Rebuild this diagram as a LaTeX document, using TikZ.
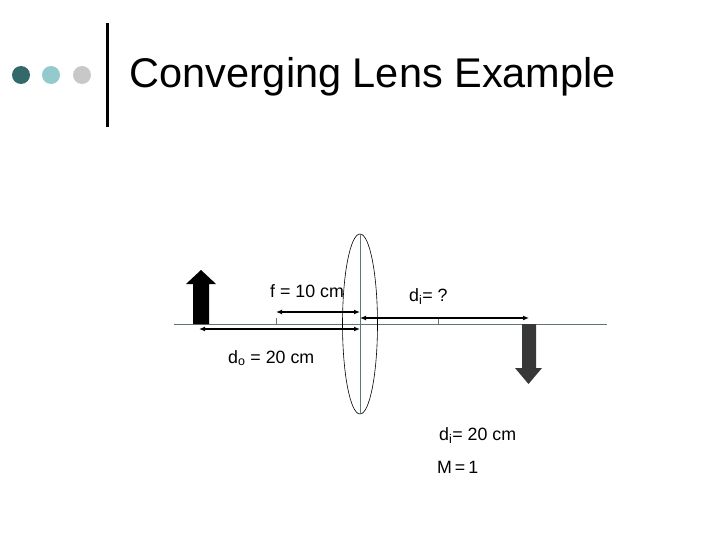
\documentclass[tikz,border=0pt]{standalone}
\usepackage{fontspec}
\setmainfont{Liberation Sans}
\usetikzlibrary{arrows.meta,shapes.geometric}
\definecolor{dteal}{HTML}{33696B}
\definecolor{lteal}{HTML}{93CACD}
\definecolor{lgrey}{HTML}{C8C8C8}
\definecolor{axisc}{HTML}{5F7678}
\begin{document}
\begin{tikzpicture}[x=1pt,y=-1pt,
  dim/.style={{Latex[length=6pt,width=5pt]}-{Latex[length=6pt,width=5pt]},line width=1.3pt},
  lbl/.style={font=\fontsize{17.8}{20}\selectfont,inner sep=0pt}]
\useasboundingbox (0,0) rectangle (720,540);
\fill[dteal] (21,75) circle (9);
\fill[lteal] (51,75) circle (9);
\fill[lgrey] (82,75) circle (9);
\draw[line width=3pt] (107,23) -- (107,127);
\node[anchor=west,inner sep=0pt,font=\fontsize{41.5}{44}\selectfont] (title) at (129,77) {Converging Lens Example};
% axis
\coordinate (axl) at (174,324); \coordinate (axr) at (607,324);
\draw[axisc,line width=0.8pt] (axl) -- (axr);
% lens
\node[draw,ellipse,minimum width=35pt,minimum height=180pt,inner sep=0pt,line width=0.6pt] (lens) at (360,324) {};
\draw[axisc,line width=0.6pt] (lens.north) -- (lens.south);
% ticks
\draw[axisc,line width=0.6pt] (276,318) -- (276,324);
\draw[axisc,line width=0.6pt] (438,318) -- (438,324);
% object arrow
\fill (193,324) -- (193,284) -- (186,284) -- (201,270) -- (216,284) -- (209,284) -- (209,324) -- cycle;
% image arrow
\fill[black!78] (522,324) -- (522,368) -- (515,368) -- (528.5,384) -- (542,368) -- (536,368) -- (536,324) -- cycle;
% dimension arrows
\coordinate (fa) at (276,312); \coordinate (fb) at (360,312);
\draw[dim] (fa) -- (fb);
\coordinate (da) at (199,329); \coordinate (db) at (360,329);
\draw[dim] (da) -- (db);
\coordinate (ia) at (360,318); \coordinate (ib) at (529,318);
\draw[dim] (ia) -- (ib);
% labels
\node[lbl,anchor=west] (fl) at (270,291) {f = 10 cm};
\node[lbl,anchor=west] (dil) at (409,297) {d\textsubscript{i}= ?};
\node[lbl,anchor=west] (dol) at (228,358) {d\textsubscript{o} = 20 cm};
\node[lbl,anchor=west] (di2) at (439,436) {d\textsubscript{i}= 20 cm};
\node[lbl,anchor=west] (m) at (437,467) {M\,=\,1};
\end{tikzpicture}
\end{document}
